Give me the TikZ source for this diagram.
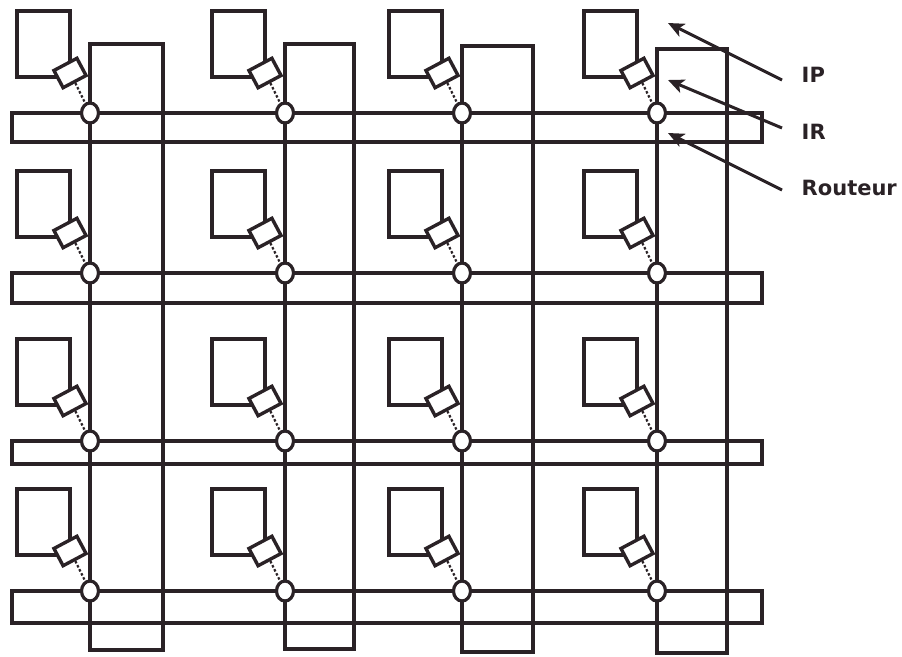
\documentclass[tikz,border=0pt]{standalone}
\usepackage{fontspec}
\setmainfont{DejaVu Sans}
\usetikzlibrary{arrows.meta,positioning,shapes.geometric}
\definecolor{ink}{HTML}{2A2226}

\begin{document}
\begin{tikzpicture}[x=1pt,y=-1pt,
  color=ink,line width=3.4pt,
  ipbox/.style={draw=ink,line width=3.4pt,minimum width=53pt,minimum height=66pt,inner sep=0pt},
  irbox/.style={draw=ink,fill=white,line width=3.4pt,minimum width=26pt,minimum height=19.5pt,inner sep=0pt,rotate=28},
  router/.style={ellipse,draw=ink,fill=white,line width=3.2pt,minimum width=17pt,minimum height=20pt,inner sep=0pt},
  link/.style={draw=ink,line width=2.2pt,dash pattern=on 2.5pt off 2pt},
  arr/.style={draw=ink,line width=3pt,-{Stealth[length=16pt,width=14pt,inset=4pt]}},
  lab/.style={font=\fontsize{21}{24}\selectfont\bfseries,text=ink,inner sep=0pt,anchor=west}
]
\useasboundingbox (0,0) rectangle (902,656);
% vertical bars
\foreach \x/\xr/\top/\bot in {90/163/44/650,285/354/44/649,462/533/46/652,657/727/49/653}
  \draw (\x,\top) rectangle (\xr,\bot);
% horizontal bars
\foreach \y/\yb in {113/142,273/303,441/464,591/623}
  \draw (12,\y) rectangle (762,\yb);
% IP, IR and router of each tile
\foreach \x/\c in {90/1,285/2,462/3,657/4}
  \foreach \y/\r in {113/1,273/2,441/3,591/4}{
    \node[ipbox] (ip\c\r) at (\x-46.5,\y-69) {};
    \node[irbox] (ir\c\r) at (\x-20,\y-40) {};
    \node[router] (rt\c\r) at (\x,\y) {};
    \draw[link] (ir\c\r.south) -- (rt\c\r);
  }
% legend
\node[lab] (lab-ip) at (800,75) {IP};
\node[lab] (lab-ir) at (800,131.5) {IR};
\node[lab] (lab-rt) at (800,187.5) {Routeur};
\coordinate (tip-ip) at (668,23);
\coordinate (tip-ir) at (668,80);
\coordinate (tip-rt) at (668,133);
\draw[arr] (lab-ip.west) ++(-18,5) -- (tip-ip);
\draw[arr] (lab-ir.west) ++(-18,-3.5) -- (tip-ir);
\draw[arr] (lab-rt.west) ++(-18,2.5) -- (tip-rt);
\end{tikzpicture}
\end{document}
